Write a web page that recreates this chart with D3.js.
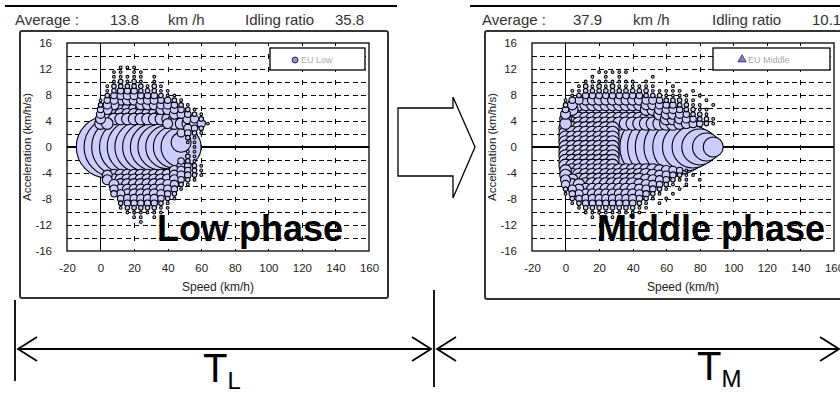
<!DOCTYPE html>
<html><head><meta charset="utf-8">
<script src="https://cdn.jsdelivr.net/npm/d3@7"></script>
<style>body{margin:0;background:#fff}svg{display:block}</style>
</head><body>
<svg id="c" width="840" height="396"></svg>
<script>
// ---------- data ----------
const speedBins = [0,4,8,12,16,20,24,28,32,36,40,44,48,52,56,60,64,68,72,76,80,84,88,92,96];
const accelBins = [12.24,11.52,10.8,10.08,9.36,8.64,7.92,7.2,6.48,5.76,5.04,4.32,3.6,2.88,2.16,1.44,0.72,0,
  -0.72,-1.44,-2.16,-2.88,-3.6,-4.32,-5.04,-5.76,-6.48,-7.2,-7.92,-8.64,-9.36,-10.08,-10.8,-11.52];
const xTicks = [-20,0,20,40,60,80,100,120,140,160];
const yTicks = [16,12,8,4,0,-4,-8,-12,-16];
// frequency value for each mesh code digit
const sizeLevels = [0,0.15,0.4,0.8,1.3,1.9,2.6,3.4,4.3,5.3];

const lowMesh = [
"0001110000000000000000000",
"0011011000000000000000000",
"0011111010000000000000000",
"0012121010000000000000000",
"0122222121000000000000000",
"0123332221100000000000000",
"0234443332110000000000000",
"1345554443321000000000000",
"2456665554432100000000000",
"3566666665543210000000000",
"4666666666654321000000000",
"5666666666666542000000000",
"6600000000566654100000000",
"0000000000000432000000000",
"0000000000000321000000000",
"0000000000000210000000000",
"0000000000000110000000000",
"0000000000000010000000000",
"0000000000000110000000000",
"0000000000000210000000000",
"0000000000003210000000000",
"0000000000004321000000000",
"0000000000054321000000000",
"0566666666654321000000000",
"0566666666653210000000000",
"0056666666542100000000000",
"0045555555431000000000000",
"0034555554320000000000000",
"0003444443210000000000000",
"0002333332100000000000000",
"0001222221100000000000000",
"0000111111000000000000000",
"0000011010000000000000000",
"0000001000000000000000000"];

const midMesh = [
"0000000000000000000000000",
"0000011111000000000000000",
"0000101010000100000000000",
"0001111111101000000000000",
"0012121211111100100000000",
"0112222222222111110100000",
"0123333333332221111010000",
"1345555555554432221101000",
"2566666666665543322110100",
"3677777777776654432211000",
"5777777777777765543221000",
"6777777777777776654322100",
"6777777777777777765432100",
"7777777700000000000000000",
"7777777700000000000000000",
"7777777700000000000000000",
"7777777700000000000000000",
"7777777700000000000000000",
"7777777700000000000000000",
"7777777700000000000000000",
"7777777700000000000000000",
"7777777700000000000000000",
"6777777777777765431000000",
"6777777777777654321100000",
"5677777777776543211010000",
"4667777777765432101000000",
"2456666666654321010000000",
"1345555555543210100000000",
"0234444444432101000000000",
"0123333333321010000000000",
"0012222222211000000000000",
"0001111111110000000000000",
"0000101110100000000000000",
"0000001010000000000000000"];

// large bubbles (cruise / idle core)
const lowBigSpeed = [4,8,12,16,20,24,28,32,36,40,44,48,48,48];
const lowBigAccel = [0,0,0,0,0,0,0,0,0,0,0,0,0.72,2.16];
const lowBigSize  = [74,69,65,60,56,52,48,44,41,37,34,31,7.7,1.2];

const midBigSpeed = [48,52,56,60,64,68,72,76,80,84,88];
const midBigAccel = [0,0,0,0,0,0,0,0,0,0,0];
const midBigSize  = [89,84,79,74,65,56,44,34,25,15,7.7];

const lowStats = {avg:"13.8", idle:"35.8", legend:"EU Low", phase:"Low phase"};
const midStats = {avg:"37.9", idle:"10.1", legend:"EU Middle", phase:"Middle phase"};

// ---------- drawing ----------
const svg = d3.select("#c");
const FONT = "'Liberation Sans', Arial, sans-serif";
const rScale = d3.scaleSqrt().domain([0,100]).range([0,36]);

function buildPoints(mesh, bs, ba, bv){
  const pts = [];
  bs.forEach((s,i)=>pts.push({s, a:ba[i], v:bv[i]}));
  mesh.forEach((row,ri)=>{
    for(let ci=0; ci<row.length; ci++){
      const d = +row[ci];
      if(d>0) pts.push({s:speedBins[ci], a:accelBins[ri], v:sizeLevels[d]});
    }
  });
  return pts.map((p,i)=>({...p,i})).sort((p,q)=> (q.v-p.v) || (p.i-q.i));
}

function panel(o){
  const g = svg.append("g");
  g.append("line").attr("x1",o.ruleX1).attr("x2",o.ruleX2).attr("y1",6).attr("y2",6)
    .attr("stroke","#000").attr("stroke-width",2).attr("shape-rendering","crispEdges");
  const hdr = [["Average :",o.hx[0]],[o.st.avg,o.hx[1]],["km /h",o.hx[2]],["Idling ratio",o.hx[3]],[o.st.idle,o.hx[4]]];
  g.selectAll("text.hdr").data(hdr).join("text").attr("class","hdr")
    .attr("x",d=>d[1]).attr("y",25).text(d=>d[0])
    .attr("font-family",FONT).attr("font-size",15).attr("fill","#333");
  g.append("rect").attr("x",o.box[0]).attr("y",o.box[1]).attr("width",o.box[2]).attr("height",o.box[3])
    .attr("rx",2).attr("fill","#fff").attr("stroke","#333").attr("stroke-width",2);

  const x = d3.scaleLinear().domain([-20,160]).range([o.px0,o.px1]);
  const y = d3.scaleLinear().domain([-16,16]).range([251,43]);
  const pg = g.append("g").attr("shape-rendering","crispEdges");
  const hLines = d3.range(-14,15,2).filter(v=>v!==0);
  pg.selectAll("line.h").data(hLines).join("line")
    .attr("x1",o.px0).attr("x2",o.px1).attr("y1",d=>Math.round(y(d))+0.5).attr("y2",d=>Math.round(y(d))+0.5)
    .attr("stroke","#000").attr("stroke-width",1).attr("stroke-dasharray","5,3.4");
  const vLines = xTicks.filter(v=>v>0 && v<160);
  pg.selectAll("line.v").data(vLines).join("line")
    .attr("y1",43).attr("y2",251).attr("x1",d=>Math.round(x(d))+0.5).attr("x2",d=>Math.round(x(d))+0.5)
    .attr("stroke","#000").attr("stroke-width",1).attr("stroke-dasharray","5,8").attr("stroke-dashoffset",2.5);
  pg.append("line").attr("x1",x(0)).attr("x2",x(0)).attr("y1",43).attr("y2",251).attr("stroke","#000").attr("stroke-width",1.5);
  pg.append("line").attr("x1",o.px0).attr("x2",o.px1).attr("y1",y(0)).attr("y2",y(0)).attr("stroke","#000").attr("stroke-width",1.5);

  const clipId = "clip"+o.id;
  g.append("clipPath").attr("id",clipId).append("rect")
    .attr("x",o.px0).attr("y",43).attr("width",o.px1-o.px0).attr("height",208);
  const pts = buildPoints(o.mesh,o.bs,o.ba,o.bv);
  g.append("g").attr("clip-path",`url(#${clipId})`).selectAll("circle").data(pts).join("circle")
    .attr("cx",d=>x(d.s)).attr("cy",d=>y(d.a)).attr("r",d=>rScale(d.v))
    .attr("fill","#ccccff").attr("stroke","#000").attr("stroke-width",1.1);

  g.append("rect").attr("x",o.px0).attr("y",43).attr("width",o.px1-o.px0).attr("height",208)
    .attr("fill","none").attr("stroke","#000").attr("stroke-width",1.3);

  const ax = g.append("g").attr("transform",`translate(${o.px0},0)`)
    .call(d3.axisLeft(y).tickValues(yTicks).tickSize(0).tickPadding(15).tickFormat(d=>String(d)));
  ax.select(".domain").remove();
  ax.selectAll("text").attr("font-family",FONT).attr("font-size",11.5).attr("fill","#222");
  const bx = g.append("g").attr("transform","translate(0,264)")
    .call(d3.axisBottom(x).tickValues(xTicks).tickSize(0).tickPadding(0).tickFormat(d=>String(d)));
  bx.select(".domain").remove();
  bx.selectAll("text").attr("font-family",FONT).attr("font-size",11.5).attr("fill","#222");

  g.append("text").attr("x",(o.px0+o.px1)/2).attr("y",291).attr("text-anchor","middle")
    .attr("font-family",FONT).attr("font-size",12).attr("fill","#222").text("Speed (km/h)");
  g.append("text").attr("transform",`translate(${o.px0-36},147) rotate(-90)`).attr("text-anchor","middle")
    .attr("font-family",FONT).attr("font-size",11.5).attr("fill","#222").text("Acceleration (km/h/s)");

  g.append("rect").attr("x",o.leg[0]).attr("y",48).attr("width",o.leg[1]).attr("height",22)
    .attr("fill","#fff").attr("stroke","#000").attr("stroke-width",1.3);
  if(o.marker==="circle"){
    g.append("circle").attr("cx",o.leg[0]+25).attr("cy",60).attr("r",3)
      .attr("fill","#8f8fe8").attr("stroke","#333").attr("stroke-width",1);
  } else {
    g.append("path").attr("d",d3.symbol(d3.symbolTriangle,30)())
      .attr("transform",`translate(${o.leg[0]+29},59.5)`)
      .attr("fill","#7f7fd8").attr("stroke","#333").attr("stroke-width",0.8);
  }
  g.append("text").attr("x",o.leg[0]+(o.marker==="circle"?31:35)).attr("y",63)
    .attr("font-family",FONT).attr("font-size",9).attr("fill","#aaa").text(o.st.legend);

  g.append("text").attr("x",o.phaseX).attr("y",241).attr("font-family",FONT).attr("font-weight","bold")
    .attr("font-size",36).attr("fill","#000").text(o.st.phase);
}

panel({id:"L", ruleX1:5, ruleX2:397, hx:[15,110,168,245,335], st:lowStats, box:[20,31,368,267],
  px0:67, px1:369, mesh:lowMesh, bs:lowBigSpeed, ba:lowBigAccel, bv:lowBigSize,
  leg:[270,95], marker:"circle", phaseX:157});
panel({id:"M", ruleX1:470, ruleX2:840, hx:[482,573,633,712,812], st:midStats, box:[485,31,368,268],
  px0:532, px1:834, mesh:midMesh, bs:midBigSpeed, ba:midBigAccel, bv:midBigSize,
  leg:[713,117], marker:"tri", phaseX:597});

svg.append("path").attr("d","M398,108 L453,108 L453,97 L475,147 L453,198 L453,176 L398,176 Z")
  .attr("fill","#fff").attr("stroke","#000").attr("stroke-width",1.3);

const tl = svg.append("g").attr("stroke","#000").attr("fill","none").attr("stroke-width",1.8);
tl.append("line").attr("x1",15).attr("x2",15).attr("y1",300).attr("y2",381);
tl.append("line").attr("x1",434).attr("x2",434).attr("y1",290).attr("y2",387);
function dbl(xa,xb,yy){
  tl.append("line").attr("x1",xa).attr("x2",xb).attr("y1",yy).attr("y2",yy);
  tl.append("path").attr("d",`M${xa+19},${yy-12} L${xa},${yy} L${xa+19},${yy+12}`);
  tl.append("path").attr("d",`M${xb-19},${yy-12} L${xb},${yy} L${xb-19},${yy+12}`);
}
dbl(18,431,349);
dbl(437,839,349);
const spans = [{t:"T",sub:"L",x:203,y:382},{t:"T",sub:"M",x:697,y:380}];
spans.forEach(s=>{
  const t = svg.append("text").attr("x",s.x).attr("y",s.y).attr("font-family",FONT).attr("font-size",40).attr("fill","#000");
  t.append("tspan").text(s.t);
  t.append("tspan").attr("font-size",24).attr("dy",7).text(s.sub);
});
</script>
</body></html>
